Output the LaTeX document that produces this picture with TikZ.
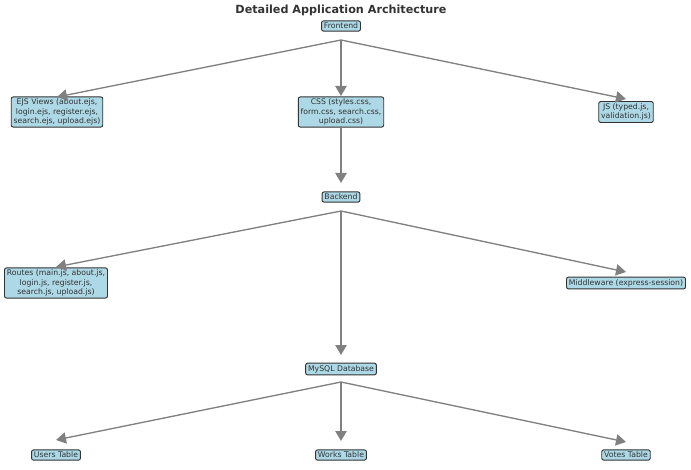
\documentclass[tikz,border=0pt]{standalone}
\usepackage{fontspec}
\setmainfont{DejaVu Sans}
\usetikzlibrary{arrows.meta,calc}
\definecolor{boxfill}{HTML}{ADD8E6}
\definecolor{boxline}{HTML}{333333}
\begin{document}
\begin{tikzpicture}[x=0.75pt,y=-0.75pt,
    box/.style={draw=boxline, fill=boxfill, rounded corners=1.5pt, line width=0.7pt,
      text=boxline, font=\fontsize{5.8}{6.9}\selectfont, align=center,
      inner xsep=1.8pt, inner ysep=1.6pt},
    edge/.style={draw=gray, line width=1pt, -{Triangle[length=7.5pt,width=8.5pt]}}]
    \useasboundingbox (0,0) rectangle (691,470);
    \node[text=boxline, font=\bfseries\fontsize{8.4}{10}\selectfont] (title) at (341,10) {Detailed Application Architecture};
    % frontend
    \node[box] (fe) at (341,26) {Frontend};
    \node[box] (ejs) at (57,112) {EJS Views (about.ejs,\\login.ejs, register.ejs,\\search.ejs, upload.ejs)};
    \node[box] (css) at (341,112) {CSS (styles.css,\\form.css, search.css,\\upload.css)};
    \node[box] (js) at (626,112) {JS (typed.js,\\validation.js)};
    % backend
    \node[box] (be) at (341,197) {Backend};
    \node[box] (routes) at (56,283) {Routes (main.js, about.js,\\login.js, register.js,\\search.js, upload.js)};
    \node[box] (mw) at (626,283) {Middleware (express-session)};
    % database
    \node[box] (db) at (341,369) {MySQL Database};
    \node[box] (users) at (56,455) {Users Table};
    \node[box] (works) at (341,455) {Works Table};
    \node[box] (votes) at (626,455) {Votes Table};
    % edges leave below the source and stop above the target
    \coordinate (fe-o) at ($(fe)+(0,14)$);
    \coordinate (css-o) at ($(css)+(0,14)$);
    \coordinate (be-o) at ($(be)+(0,14)$);
    \coordinate (db-o) at ($(db)+(0,13)$);
    \foreach \t/\d in {ejs/15,css/16,js/13} \draw[edge] (fe-o) -- ($(\t)+(0,-\d)$);
    \draw[edge] (css-o) -- ($(be)+(0,-14)$);
    \foreach \t/\d in {routes/16,mw/11,db/14} \draw[edge] (be-o) -- ($(\t)+(0,-\d)$);
    \foreach \t/\d in {users/15,works/14,votes/13} \draw[edge] (db-o) -- ($(\t)+(0,-\d)$);
\end{tikzpicture}
\end{document}
